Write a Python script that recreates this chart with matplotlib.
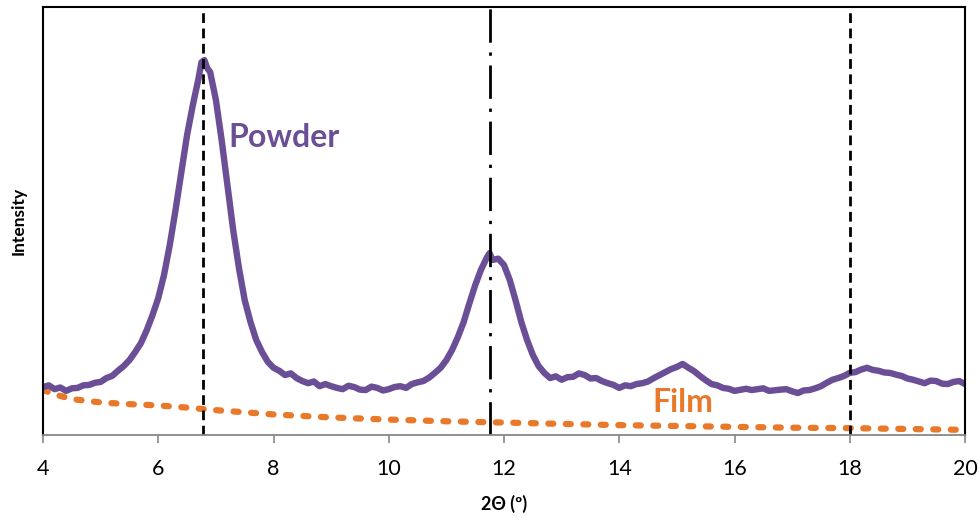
import numpy as np
import matplotlib.pyplot as plt

# powder XRD trace (arbitrary intensity)
powder_x = [4.0, 4.1, 4.2, 4.3, 4.4, 4.5, 4.6, 4.7, 4.8, 4.9, 5.0, 5.1, 5.2, 5.3, 5.4,
            5.5, 5.6, 5.7, 5.8, 5.9, 6.0, 6.1, 6.2, 6.3, 6.4, 6.5, 6.6, 6.7, 6.75,
            6.8, 6.85, 6.9, 7.0, 7.1, 7.2, 7.3, 7.4, 7.5, 7.6, 7.7, 7.8, 7.9, 8.0,
            8.1, 8.2, 8.3, 8.4, 8.5, 8.6, 8.7, 8.8, 8.9, 9.0, 9.1, 9.2, 9.3, 9.4,
            9.5, 9.6, 9.7, 9.8, 9.9, 10.0, 10.1, 10.2, 10.3, 10.4, 10.5, 10.6, 10.7,
            10.8, 10.9, 11.0, 11.1, 11.2, 11.3, 11.4, 11.5, 11.6, 11.7, 11.75, 11.8,
            11.9, 12.0, 12.1, 12.2, 12.3, 12.4, 12.5, 12.6, 12.7, 12.8, 12.9, 13.0,
            13.1, 13.2, 13.3, 13.4, 13.5, 13.6, 13.7, 13.8, 13.9, 14.0, 14.1, 14.2,
            14.3, 14.4, 14.5, 14.6, 14.7, 14.8, 14.9, 15.0, 15.1, 15.2, 15.3, 15.4,
            15.5, 15.6, 15.7, 15.8, 15.9, 16.0, 16.2, 16.3, 16.5, 16.6, 16.8, 16.9,
            17.0, 17.1, 17.2, 17.3, 17.4, 17.5, 17.6, 17.7, 17.8, 17.9, 18.0, 18.1,
            18.2, 18.3, 18.4, 18.5, 18.6, 18.7, 18.8, 18.9, 19.0, 19.1, 19.2, 19.3,
            19.4, 19.5, 19.6, 19.7, 19.8, 19.9, 20.0]
powder_y = [11.2, 11.6, 10.7, 11.1, 10.3, 10.9, 11.0, 11.6, 11.7, 12.2, 12.4, 13.3,
            13.8, 15.0, 16.1, 17.5, 19.4, 21.5, 24.5, 28.0, 32.0, 37.4, 44.4, 52.6,
            61.4, 70.1, 77.1, 83.4, 87.1, 87.6, 85.7, 84.8, 78.3, 68.9, 58.4, 47.9,
            39.0, 31.5, 26.4, 22.2, 19.4, 17.1, 15.7, 15.0, 14.0, 14.4, 13.3, 12.6,
            12.1, 12.5, 11.4, 11.9, 11.4, 11.0, 10.7, 11.5, 11.2, 10.6, 10.5, 11.3,
            11.0, 10.4, 10.7, 11.2, 11.4, 11.0, 11.9, 12.3, 12.6, 13.4, 14.5, 15.7,
            17.5, 19.9, 22.9, 26.4, 30.8, 35.0, 38.6, 41.4, 42.5, 40.9, 41.2, 39.7,
            36.2, 31.5, 26.4, 22.2, 18.7, 16.1, 14.5, 13.3, 13.7, 12.9, 13.5, 13.6,
            14.4, 14.0, 13.2, 13.3, 12.6, 12.1, 11.7, 11.0, 11.6, 11.4, 11.9, 12.1,
            12.5, 13.3, 14.0, 14.7, 15.4, 15.9, 16.6, 15.7, 14.9, 13.8, 12.8, 11.9,
            11.6, 11.0, 10.8, 10.3, 10.8, 10.5, 10.9, 10.3, 10.6, 10.7, 10.2, 9.8,
            10.4, 10.5, 10.9, 11.4, 12.2, 12.9, 13.3, 13.8, 14.5, 14.7, 15.3, 15.7,
            15.2, 15.0, 14.6, 14.5, 14.1, 13.8, 13.2, 12.9, 12.5, 12.1, 12.7, 12.6,
            12.0, 11.9, 12.4, 12.6, 11.9]

# film trace
film_x = [4.0, 4.25, 4.5, 5.0, 5.5, 6.0, 6.5, 7.0, 7.5, 8.0, 9.0, 10.0, 11.0, 12.0,
          13.0, 14.0, 15.0, 16.0, 17.0, 18.0, 19.0, 20.0]
film_y = [10.5, 9.3, 8.4, 7.6, 7.2, 6.9, 6.4, 5.8, 5.3, 4.8, 4.1, 3.6, 3.2, 2.9,
          2.6, 2.3, 2.1, 1.9, 1.7, 1.6, 1.4, 1.2]

dashed_pos = [6.78, 18.0]
dashdot_pos = [11.75]

purple = '#6a4f96'
orange = '#e8792a'

plt.rcParams['font.family'] = ['Lato', 'DejaVu Sans']

fig = plt.figure(figsize=(9.8, 5.23), dpi=100)
ax = fig.add_axes([0.0439, 0.1683, 0.9408, 0.8183])

ax.plot(film_x, film_y, color=orange, lw=4.5, linestyle=(0, (0.8, 2.0)),
        dash_capstyle='round', solid_joinstyle='round')
ax.plot(powder_x, powder_y, color=purple, lw=4.6, solid_joinstyle='round')

for p in dashed_pos:
    ax.axvline(p, color='black', lw=2.0, linestyle=(0, (3.5, 2)))
for p in dashdot_pos:
    ax.axvline(p, color='black', lw=2.0, linestyle=(0, (12, 3.5, 1.2, 3.5)))

ax.text(7.21, 69.6, 'Powder', color=purple, fontsize=23, fontweight='bold',
        va='center', ha='left')
ax.text(14.57, 7.5, 'Film', color=orange, fontsize=23, fontweight='bold',
        va='center', ha='left')

ax.set_xlim(4, 20)
ax.set_ylim(0, 100)
ax.set_xticks([4, 6, 8, 10, 12, 14, 16, 18, 20])
ax.set_yticks([])
ax.tick_params(axis='x', labelsize=15.5, length=6, width=1.2, color='#888888', pad=11)

for s in ['left', 'right', 'top']:
    ax.spines[s].set_color('black')
    ax.spines[s].set_linewidth(1.5)
ax.spines['bottom'].set_color('#888888')
ax.spines['bottom'].set_linewidth(1.3)

ax.set_xlabel('2Θ (º)', fontsize=13, fontweight='bold', labelpad=12)
ax.set_ylabel('Intensity', fontsize=12.5, fontweight='bold', labelpad=12)

fig.savefig('out.png', dpi=100)
